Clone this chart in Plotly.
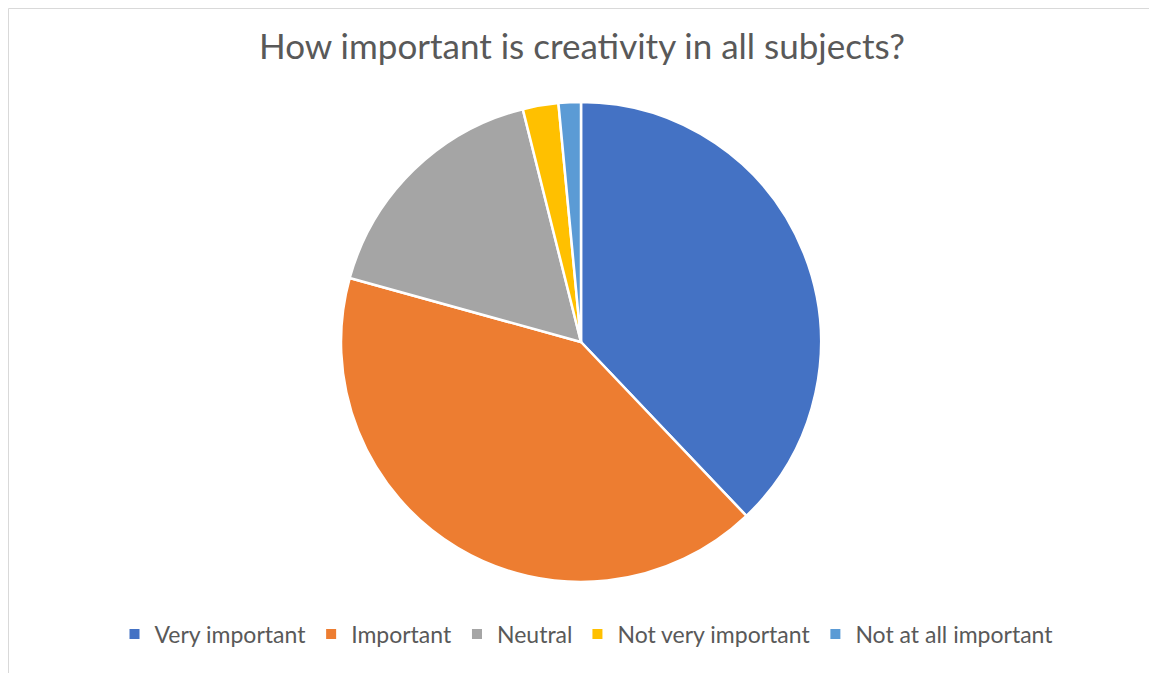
import plotly.graph_objects as go

labels = ["Very important", "Important", "Neutral", "Not very important", "Not at all important"]
values = [37.9, 41.4, 16.8, 2.4, 1.5]
colors = ["#4472C4", "#ED7D31", "#A5A5A5", "#FFC000", "#5B9BD5"]

W, H = 1157, 673
OFF = 8  # page body margin
cx, cy, r = 581 - OFF, 342 - OFF, 240

fig = go.Figure(go.Pie(
    labels=labels, values=values, sort=False, direction="clockwise", rotation=0,
    marker=dict(colors=colors, line=dict(color="white", width=2.5)),
    textinfo="none", hoverinfo="label+percent",
    domain=dict(x=[(cx - r) / W, (cx + r) / W], y=[1 - (cy + r) / H, 1 - (cy - r) / H]),
))

fig.update_layout(
    width=W, height=H,
    margin=dict(l=0, r=0, t=0, b=0),
    paper_bgcolor="white", plot_bgcolor="white",
    title=dict(text="How important is creativity in all subjects?", x=(582 - OFF) / W, xanchor="center",
               y=1 - (47 - OFF) / H, yanchor="middle",
               font=dict(family="Lato, Open Sans, sans-serif", size=35, color="#595959")),
    legend=dict(orientation="h", x=(586.5 - OFF) / W, xanchor="center", y=1 - (634 - OFF) / H, yanchor="middle",
                font=dict(family="Lato, Open Sans, sans-serif", size=23, color="#595959"),
                itemsizing="constant", traceorder="normal"),
    shapes=[dict(type="rect", xref="paper", yref="paper", x0=0.5 / W, x1=(1156 - OFF) / W,
                 y0=-0.01, y1=1 - 0.5 / H, line=dict(color="#D9D9D9", width=1),
                 fillcolor="rgba(0,0,0,0)", layer="below")],
)

fig.write_html("out.html")
